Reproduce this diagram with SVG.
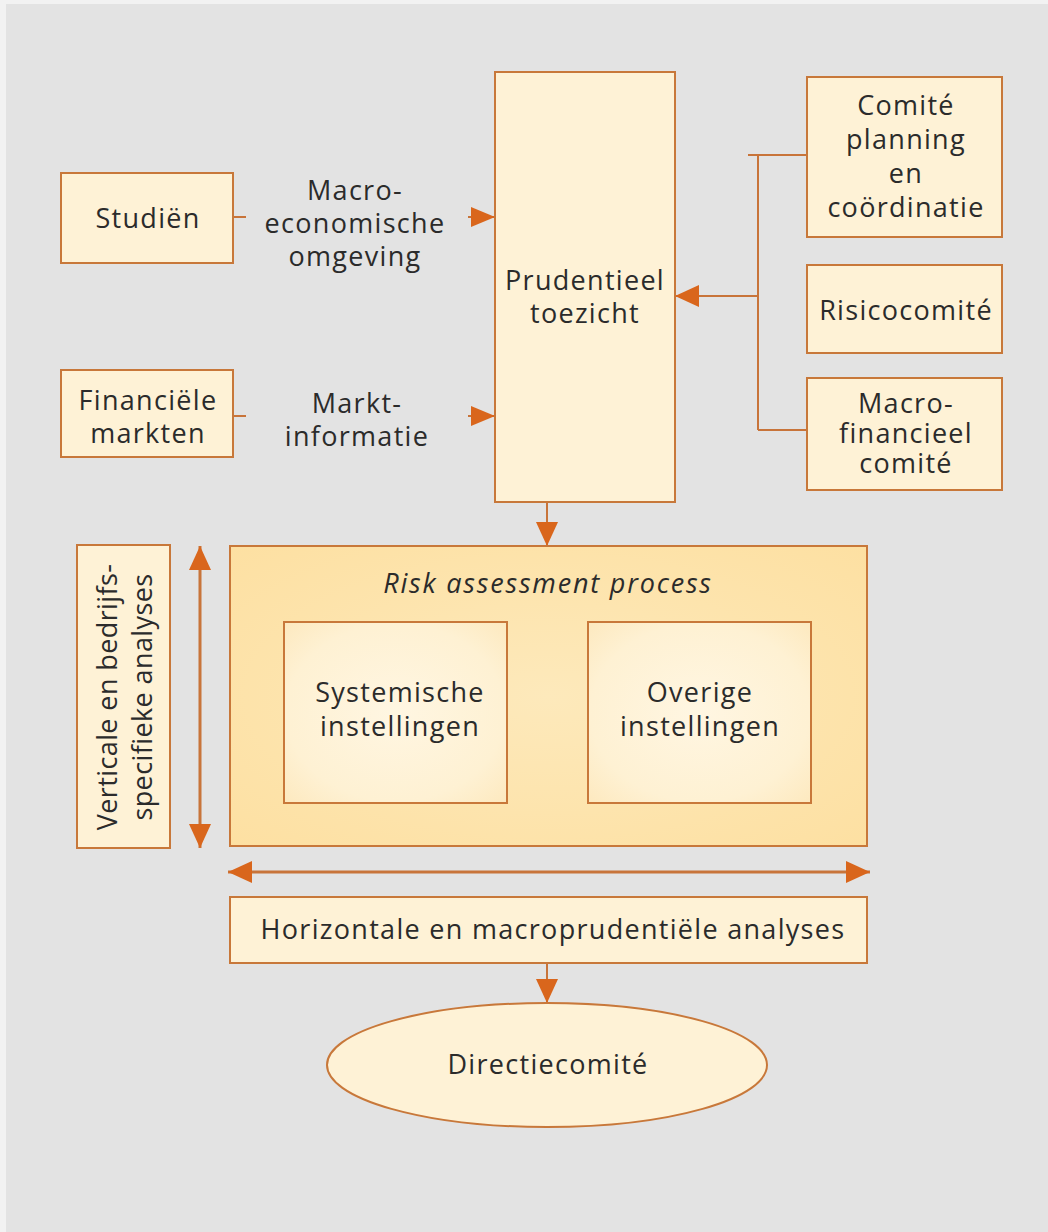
<svg xmlns="http://www.w3.org/2000/svg" width="1048" height="1232" viewBox="0 0 1048 1232">
  <defs>
    <style>
      .box { fill: #fef2d6; stroke: #c8783a; stroke-width: 2; }
      .inner { fill: url(#innerGrad); stroke: #c8783a; stroke-width: 2; }
      .outer { fill: url(#outerGrad); stroke: #c8783a; stroke-width: 2; }
      .t { font-family: "Open Sans", "Noto Sans", "Liberation Sans", sans-serif; font-size: 27px; fill: #2b2b2b; text-anchor: middle; letter-spacing: 1.3px; }
      .it { font-style: italic; letter-spacing: 1.8px; }
      .vt { letter-spacing: 0.4px; }
      .conn { fill: none; stroke: #c8743a; stroke-width: 2; }
      .thick { stroke-width: 3; }
    </style>
    <radialGradient id="innerGrad" cx="50%" cy="50%" r="70%">
      <stop offset="0" stop-color="#fff6e2"/>
      <stop offset="0.7" stop-color="#fef1d3"/>
      <stop offset="1" stop-color="#fde9bf"/>
    </radialGradient>
    <radialGradient id="outerGrad" cx="50%" cy="50%" r="70%">
      <stop offset="0" stop-color="#fde9bb"/>
      <stop offset="1" stop-color="#fde0a2"/>
    </radialGradient>
    <marker id="ah" markerUnits="userSpaceOnUse" markerWidth="24" markerHeight="22" refX="24" refY="11" orient="auto-start-reverse" viewBox="0 0 24 22">
      <path d="M0,0 L24,11 L0,22 z" fill="#d9661c"/>
    </marker>
    <marker id="ahs" markerUnits="userSpaceOnUse" markerWidth="24" markerHeight="20" refX="24" refY="10" orient="auto-start-reverse" viewBox="0 0 24 20">
      <path d="M0,0 L24,10 L0,20 z" fill="#d9661c"/>
    </marker>
  </defs>

  <rect x="0" y="0" width="1048" height="1232" fill="#f2f2f2"/>
  <rect x="6" y="4" width="1042" height="1228" fill="#e3e3e3"/>

  <g id="connectors">
    <path class="conn" d="M233,217 H246"/>
    <path class="conn" d="M468,217 H495" marker-end="url(#ahs)"/>
    <path class="conn" d="M233,416 H246"/>
    <path class="conn" d="M468,416 H495" marker-end="url(#ahs)"/>
    <path class="conn" d="M807,155 H748 M758,155 V430 M807,430 H758"/>
    <path class="conn" d="M758,296 H675" marker-end="url(#ah)"/>
    <path class="conn" d="M547,502 V546" marker-end="url(#ah)"/>
    <path class="conn thick" d="M200,546 V848" marker-start="url(#ah)" marker-end="url(#ah)"/>
    <path class="conn thick" d="M228,872 H870" marker-start="url(#ah)" marker-end="url(#ah)"/>
    <path class="conn" d="M547,963 V1003" marker-end="url(#ah)"/>
  </g>

  <g id="studien">
    <rect class="box" x="61" y="173" width="172" height="90"/>
    <text class="t" x="148" y="228">Studiën</text>
  </g>
  <g id="label-macro">
    <text class="t" x="355" y="200">Macro-</text>
    <text class="t" x="355" y="233">economische</text>
    <text class="t" x="355" y="266">omgeving</text>
  </g>
  <g id="financiele">
    <rect class="box" x="61" y="370" width="172" height="87"/>
    <text class="t" x="148" y="410">Financiële</text>
    <text class="t" x="148" y="443">markten</text>
  </g>
  <g id="label-markt">
    <text class="t" x="357" y="413">Markt-</text>
    <text class="t" x="357" y="446">informatie</text>
  </g>
  <g id="prudentieel">
    <rect class="box" x="495" y="72" width="180" height="430"/>
    <text class="t" x="585" y="290">Prudentieel</text>
    <text class="t" x="585" y="323">toezicht</text>
  </g>
  <g id="comite-planning">
    <rect class="box" x="807" y="77" width="195" height="160"/>
    <text class="t" x="906" y="115">Comité</text>
    <text class="t" x="906" y="149">planning</text>
    <text class="t" x="906" y="183">en</text>
    <text class="t" x="906" y="217">coördinatie</text>
  </g>
  <g id="risicocomite">
    <rect class="box" x="807" y="265" width="195" height="88"/>
    <text class="t" x="906" y="320">Risicocomité</text>
  </g>
  <g id="macrofinancieel">
    <rect class="box" x="807" y="378" width="195" height="112"/>
    <text class="t" x="906" y="413">Macro-</text>
    <text class="t" x="906" y="443">financieel</text>
    <text class="t" x="906" y="473">comité</text>
  </g>
  <g id="verticale">
    <rect class="box" x="77" y="545" width="93" height="303"/>
    <text class="t vt" transform="translate(117,697) rotate(-90)" x="0" y="0">Verticale en bedrijfs-</text>
    <text class="t vt" transform="translate(152,697) rotate(-90)" x="0" y="0">specifieke analyses</text>
  </g>
  <g id="risk-assessment">
    <rect class="outer" x="230" y="546" width="637" height="300"/>
    <text class="t it" x="548" y="593">Risk assessment process</text>
  </g>
  <g id="systemische">
    <rect class="inner" x="284" y="622" width="223" height="181"/>
    <text class="t" x="400" y="702">Systemische</text>
    <text class="t" x="400" y="736">instellingen</text>
  </g>
  <g id="overige">
    <rect class="inner" x="588" y="622" width="223" height="181"/>
    <text class="t" x="700" y="702">Overige</text>
    <text class="t" x="700" y="736">instellingen</text>
  </g>
  <g id="horizontale">
    <rect class="box" x="230" y="897" width="637" height="66"/>
    <text class="t" x="553" y="939">Horizontale en macroprudentiële analyses</text>
  </g>
  <g id="directiecomite">
    <ellipse cx="547" cy="1065" rx="220" ry="62" fill="#fef2d6" stroke="#c8783a" stroke-width="2"/>
    <text class="t" x="548" y="1074">Directiecomité</text>
  </g>
</svg>
